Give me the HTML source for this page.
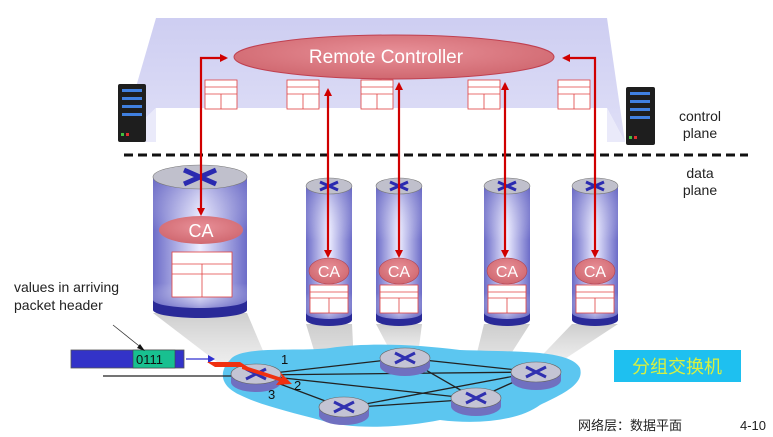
<!DOCTYPE html>
<html><head><meta charset="utf-8"><style>
html,body{margin:0;padding:0;background:#fff}
svg{display:block}
text{font-family:"Liberation Sans","Noto Sans CJK SC",sans-serif}
</style></head><body>
<svg width="773" height="437" viewBox="0 0 773 437" xmlns="http://www.w3.org/2000/svg">
<defs>
<linearGradient id="cyl" x1="0" x2="1" y1="0" y2="0">
<stop offset="0" stop-color="#6c6cc8"/><stop offset="0.5" stop-color="#ececff"/><stop offset="1" stop-color="#6c6cc8"/>
</linearGradient>
<linearGradient id="cylv" x1="0" x2="0" y1="0" y2="1">
<stop offset="0" stop-color="#6060c0" stop-opacity="0.5"/><stop offset="0.4" stop-color="#fff" stop-opacity="0"/><stop offset="0.8" stop-color="#fff" stop-opacity="0"/><stop offset="1" stop-color="#5050b8" stop-opacity="0.6"/>
</linearGradient>
<linearGradient id="cone" x1="0" x2="0" y1="0" y2="1">
<stop offset="0" stop-color="#c8c8c8" stop-opacity="0.9"/><stop offset="1" stop-color="#e8e8e8" stop-opacity="0.5"/>
</linearGradient>
<linearGradient id="ctrl" x1="0" x2="0" y1="0" y2="1">
<stop offset="0" stop-color="#c8c8f0"/><stop offset="1" stop-color="#dcdcf6"/>
</linearGradient>
<radialGradient id="ell" cx="0.5" cy="0.4" r="0.6">
<stop offset="0" stop-color="#e89098"/><stop offset="1" stop-color="#d06870"/>
</radialGradient>
<marker id="ah" markerWidth="8" markerHeight="8" refX="6" refY="4" orient="auto-start-reverse" markerUnits="userSpaceOnUse">
<path d="M0,0 L8,4 L0,8 Z" fill="#d00000"/></marker>
</defs>

<polygon points="156,18 607,18 625,142 607,108 156,108 120,142" fill="url(#ctrl)" opacity="0.9"/>
<polygon points="156,108 120,142 156,142" fill="#eaeafa"/>
<polygon points="607,108 625,142 607,142" fill="#eaeafa"/>
<rect x="156" y="108" width="451" height="40" fill="#fff"/>

<ellipse cx="394" cy="57" rx="160" ry="22" fill="url(#ell)" stroke="#c04050" stroke-width="1"/>
<text x="386" y="63" font-size="19" fill="#fff" text-anchor="middle">Remote Controller</text>

<g fill="#fff" stroke="#e04040" stroke-width="0.8">
<g transform="translate(205,80)"><rect width="32" height="29"/><line x1="0" y1="7" x2="32" y2="7"/><line x1="0" y1="14" x2="32" y2="14"/><line x1="16" y1="14" x2="16" y2="29"/></g>
<g transform="translate(287,80)"><rect width="32" height="29"/><line x1="0" y1="7" x2="32" y2="7"/><line x1="0" y1="14" x2="32" y2="14"/><line x1="16" y1="14" x2="16" y2="29"/></g>
<g transform="translate(361,80)"><rect width="32" height="29"/><line x1="0" y1="7" x2="32" y2="7"/><line x1="0" y1="14" x2="32" y2="14"/><line x1="16" y1="14" x2="16" y2="29"/></g>
<g transform="translate(468,80)"><rect width="32" height="29"/><line x1="0" y1="7" x2="32" y2="7"/><line x1="0" y1="14" x2="32" y2="14"/><line x1="16" y1="14" x2="16" y2="29"/></g>
<g transform="translate(558,80)"><rect width="32" height="29"/><line x1="0" y1="7" x2="32" y2="7"/><line x1="0" y1="14" x2="32" y2="14"/><line x1="16" y1="14" x2="16" y2="29"/></g>
</g>

<g>
<rect x="118" y="84" width="28" height="58" fill="#1e1e1e" rx="2"/>
<rect x="122" y="89" width="20" height="3" fill="#4080e0"/><rect x="122" y="97" width="20" height="3" fill="#4080e0"/>
<rect x="122" y="105" width="20" height="3" fill="#4080e0"/><rect x="122" y="113" width="20" height="3" fill="#4080e0"/>
<rect x="121" y="133" width="3" height="3" fill="#40c040"/><rect x="126" y="133" width="3" height="3" fill="#e03030"/>
<rect x="626" y="87" width="29" height="58" fill="#1e1e1e" rx="2"/>
<rect x="630" y="92" width="20" height="3" fill="#4080e0"/><rect x="630" y="100" width="20" height="3" fill="#4080e0"/>
<rect x="630" y="108" width="20" height="3" fill="#4080e0"/><rect x="630" y="116" width="20" height="3" fill="#4080e0"/>
<rect x="629" y="136" width="3" height="3" fill="#40c040"/><rect x="634" y="136" width="3" height="3" fill="#e03030"/>
</g>

<line x1="124" y1="155" x2="748" y2="155" stroke="#111" stroke-width="3" stroke-dasharray="9,5"/>
<text x="700" y="121" font-size="14" text-anchor="middle" fill="#222">control</text>
<text x="700" y="138" font-size="14" text-anchor="middle" fill="#222">plane</text>
<text x="700" y="178" font-size="14" text-anchor="middle" fill="#222">data</text>
<text x="700" y="195" font-size="14" text-anchor="middle" fill="#222">plane</text>

<g fill="url(#cone)">
<polygon points="153,313 247,313 272,372 238,378"/>
<polygon points="306,324 352,324 356,405 332,410"/>
<polygon points="376,324 422,324 418,355 394,358"/>
<polygon points="484,324 530,324 484,396 466,398"/>
<polygon points="572,324 618,324 548,370 526,372"/>
</g>

<path d="M230,360 C240,345 300,352 330,348 C370,342 420,345 460,350 C520,352 570,350 580,368 C585,385 560,395 540,405 C520,420 480,425 440,420 C400,428 350,430 320,420 C290,412 260,405 240,395 C218,385 220,370 230,360 Z" fill="#5cc6f0"/>

<g stroke="#222" stroke-width="1.3">
<line x1="256" y1="375" x2="405" y2="358"/>
<line x1="256" y1="375" x2="476" y2="399"/>
<line x1="256" y1="375" x2="344" y2="408"/>
<line x1="256" y1="375" x2="536" y2="372"/>
<line x1="405" y1="358" x2="476" y2="399"/>
<line x1="405" y1="358" x2="536" y2="372"/>
<line x1="344" y1="408" x2="476" y2="399"/>
<line x1="344" y1="408" x2="536" y2="372"/>
<line x1="476" y1="399" x2="536" y2="372"/>
<line x1="103" y1="376" x2="232" y2="376"/>
</g>

<g>
<g transform="translate(256,374)"><path d="M-25,0 v8 a25,10 0 0 0 50,0 v-8 z" fill="#7070c0"/><ellipse rx="25" ry="10" fill="#c4c4d4" stroke="#666" stroke-width="0.6"/><path d="M-10,-5 L10,5 M-10,5 L10,-5" stroke="#3030b0" stroke-width="3"/></g>
<g transform="translate(405,358)"><path d="M-25,0 v8 a25,10 0 0 0 50,0 v-8 z" fill="#7070c0"/><ellipse rx="25" ry="10" fill="#c4c4d4" stroke="#666" stroke-width="0.6"/><path d="M-10,-5 L10,5 M-10,5 L10,-5" stroke="#3030b0" stroke-width="3"/></g>
<g transform="translate(536,372)"><path d="M-25,0 v8 a25,10 0 0 0 50,0 v-8 z" fill="#7070c0"/><ellipse rx="25" ry="10" fill="#c4c4d4" stroke="#666" stroke-width="0.6"/><path d="M-10,-5 L10,5 M-10,5 L10,-5" stroke="#3030b0" stroke-width="3"/></g>
<g transform="translate(476,398)"><path d="M-25,0 v8 a25,10 0 0 0 50,0 v-8 z" fill="#7070c0"/><ellipse rx="25" ry="10" fill="#c4c4d4" stroke="#666" stroke-width="0.6"/><path d="M-10,-5 L10,5 M-10,5 L10,-5" stroke="#3030b0" stroke-width="3"/></g>
<g transform="translate(344,407)"><path d="M-25,0 v8 a25,10 0 0 0 50,0 v-8 z" fill="#7070c0"/><ellipse rx="25" ry="10" fill="#c4c4d4" stroke="#666" stroke-width="0.6"/><path d="M-10,-5 L10,5 M-10,5 L10,-5" stroke="#3030b0" stroke-width="3"/></g>
</g>

<rect x="153" y="177" width="94" height="133" fill="url(#cyl)"/>
<rect x="153" y="177" width="94" height="133" fill="url(#cylv)"/>
<path d="M153,300 v10 a47,8 0 0 0 94,0 v-10 a47,8 0 0 1 -94,0 z" fill="#2a2a98"/>
<ellipse cx="200" cy="177" rx="47" ry="12" fill="#c0c0cc" stroke="#777" stroke-width="0.6"/>
<path d="M184,170 L216,184 M184,184 L216,170" stroke="#2a2ab0" stroke-width="5"/>
<ellipse cx="201" cy="230" rx="42" ry="14" fill="url(#ell)"/>
<text x="201" y="237" font-size="18" fill="#fff" text-anchor="middle">CA</text>
<g fill="#fff" stroke="#e04040" stroke-width="0.8"><rect x="172" y="252" width="60" height="45"/><line x1="172" y1="264" x2="232" y2="264"/><line x1="172" y1="274" x2="232" y2="274"/><line x1="202" y1="264" x2="202" y2="297"/></g>

<g>
<g transform="translate(306,0)">
<rect x="0" y="186" width="46" height="134" fill="url(#cyl)"/><rect x="0" y="186" width="46" height="134" fill="url(#cylv)"/>
<path d="M0,313 v7 a23,6 0 0 0 46,0 v-7 a23,6 0 0 1 -46,0 z" fill="#2a2a98"/>
<ellipse cx="23" cy="186" rx="23" ry="8" fill="#c0c0cc" stroke="#777" stroke-width="0.6"/>
<path d="M14,182 L32,190 M14,190 L32,182" stroke="#2a2ab0" stroke-width="3"/>
<ellipse cx="23" cy="271" rx="20" ry="13" fill="url(#ell)" stroke="#b04050" stroke-width="0.6"/>
<text x="23" y="277" font-size="16" fill="#fff" text-anchor="middle">CA</text>
<g fill="#fff" stroke="#e04040" stroke-width="0.8"><rect x="4" y="285" width="38" height="28"/><line x1="4" y1="292" x2="42" y2="292"/><line x1="4" y1="298" x2="42" y2="298"/><line x1="23" y1="298" x2="23" y2="313"/></g>
</g>
<g transform="translate(376,0)">
<rect x="0" y="186" width="46" height="134" fill="url(#cyl)"/><rect x="0" y="186" width="46" height="134" fill="url(#cylv)"/>
<path d="M0,313 v7 a23,6 0 0 0 46,0 v-7 a23,6 0 0 1 -46,0 z" fill="#2a2a98"/>
<ellipse cx="23" cy="186" rx="23" ry="8" fill="#c0c0cc" stroke="#777" stroke-width="0.6"/>
<path d="M14,182 L32,190 M14,190 L32,182" stroke="#2a2ab0" stroke-width="3"/>
<ellipse cx="23" cy="271" rx="20" ry="13" fill="url(#ell)" stroke="#b04050" stroke-width="0.6"/>
<text x="23" y="277" font-size="16" fill="#fff" text-anchor="middle">CA</text>
<g fill="#fff" stroke="#e04040" stroke-width="0.8"><rect x="4" y="285" width="38" height="28"/><line x1="4" y1="292" x2="42" y2="292"/><line x1="4" y1="298" x2="42" y2="298"/><line x1="23" y1="298" x2="23" y2="313"/></g>
</g>
<g transform="translate(484,0)">
<rect x="0" y="186" width="46" height="134" fill="url(#cyl)"/><rect x="0" y="186" width="46" height="134" fill="url(#cylv)"/>
<path d="M0,313 v7 a23,6 0 0 0 46,0 v-7 a23,6 0 0 1 -46,0 z" fill="#2a2a98"/>
<ellipse cx="23" cy="186" rx="23" ry="8" fill="#c0c0cc" stroke="#777" stroke-width="0.6"/>
<path d="M14,182 L32,190 M14,190 L32,182" stroke="#2a2ab0" stroke-width="3"/>
<ellipse cx="23" cy="271" rx="20" ry="13" fill="url(#ell)" stroke="#b04050" stroke-width="0.6"/>
<text x="23" y="277" font-size="16" fill="#fff" text-anchor="middle">CA</text>
<g fill="#fff" stroke="#e04040" stroke-width="0.8"><rect x="4" y="285" width="38" height="28"/><line x1="4" y1="292" x2="42" y2="292"/><line x1="4" y1="298" x2="42" y2="298"/><line x1="23" y1="298" x2="23" y2="313"/></g>
</g>
<g transform="translate(572,0)">
<rect x="0" y="186" width="46" height="134" fill="url(#cyl)"/><rect x="0" y="186" width="46" height="134" fill="url(#cylv)"/>
<path d="M0,313 v7 a23,6 0 0 0 46,0 v-7 a23,6 0 0 1 -46,0 z" fill="#2a2a98"/>
<ellipse cx="23" cy="186" rx="23" ry="8" fill="#c0c0cc" stroke="#777" stroke-width="0.6"/>
<path d="M14,182 L32,190 M14,190 L32,182" stroke="#2a2ab0" stroke-width="3"/>
<ellipse cx="23" cy="271" rx="20" ry="13" fill="url(#ell)" stroke="#b04050" stroke-width="0.6"/>
<text x="23" y="277" font-size="16" fill="#fff" text-anchor="middle">CA</text>
<g fill="#fff" stroke="#e04040" stroke-width="0.8"><rect x="4" y="285" width="38" height="28"/><line x1="4" y1="292" x2="42" y2="292"/><line x1="4" y1="298" x2="42" y2="298"/><line x1="23" y1="298" x2="23" y2="313"/></g>
</g>
</g>

<g stroke="#d00000" stroke-width="2.2" fill="none">
<polyline points="201,214 201,58 226,58" marker-end="url(#ah)" marker-start="url(#ah)"/>
<polyline points="595,256 595,58 564,58" marker-end="url(#ah)" marker-start="url(#ah)"/>
<line x1="328" y1="256" x2="328" y2="90" marker-end="url(#ah)" marker-start="url(#ah)"/>
<line x1="399" y1="256" x2="399" y2="84" marker-end="url(#ah)" marker-start="url(#ah)"/>
<line x1="505" y1="256" x2="505" y2="84" marker-end="url(#ah)" marker-start="url(#ah)"/>
</g>

<rect x="71" y="350" width="113" height="18" fill="#3333c8" stroke="#555" stroke-width="0.8"/>
<rect x="133" y="350" width="42" height="18" fill="#18c090" stroke="#444" stroke-width="0.6"/>
<text x="136" y="364" font-size="13" fill="#111">0111</text>
<line x1="186" y1="359" x2="208" y2="359" stroke="#3030d0" stroke-width="1.2"/>
<path d="M208,355 L215,359 L208,363 Z" fill="#3030d0"/>
<line x1="113" y1="325" x2="143" y2="349" stroke="#333" stroke-width="0.8"/>
<path d="M140,344 L145,351 L137,348 Z" fill="#111"/>
<path d="M207,362 L240,362 L248,367 L215,367 Z" fill="#f03010"/>
<path d="M242,365 L282,378 L280,372 L292,384 L276,385 L279,381 L242,369 Z" fill="#f03010"/>
<text x="281" y="364" font-size="13" fill="#111">1</text>
<text x="294" y="390" font-size="13" fill="#111">2</text>
<text x="268" y="399" font-size="13" fill="#111">3</text>

<text x="14" y="292" font-size="14" fill="#222">values in arriving</text>
<text x="14" y="310" font-size="14" fill="#222">packet header</text>

<rect x="614" y="350" width="127" height="32" fill="#1ec0f0"/>
<text x="677" y="373" font-size="18" fill="#d8f040" text-anchor="middle">分组交换机</text>

<text x="578" y="430" font-size="13" fill="#222">网络层：数据平面</text>
<text x="740" y="430" font-size="13" fill="#222">4-10</text>
</svg>
</body></html>
